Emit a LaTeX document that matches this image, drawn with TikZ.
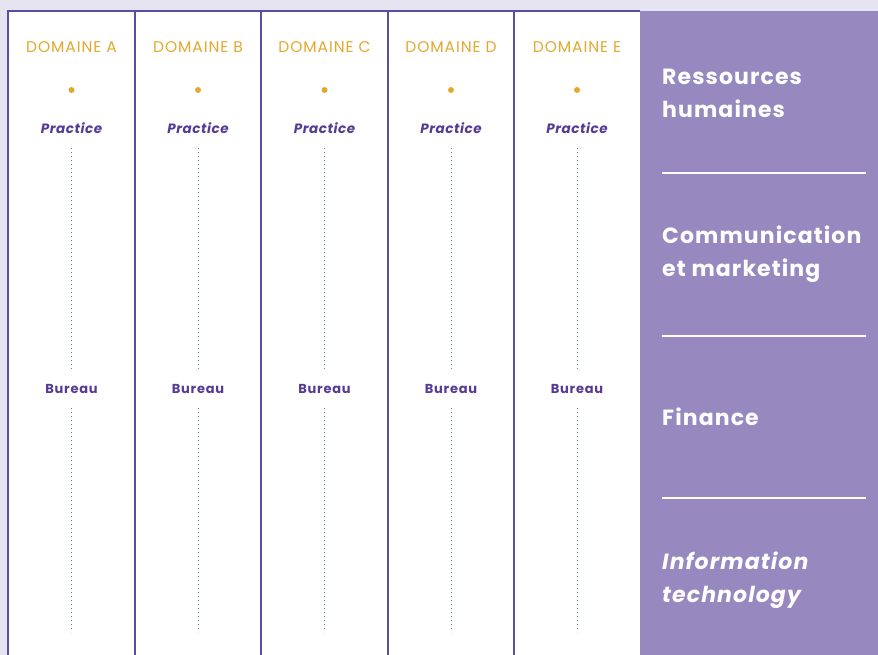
\documentclass[tikz,border=0pt]{standalone}
\usepackage{fontspec}
\setmainfont{Poppins}
\definecolor{bgc}{HTML}{E7E4F1}
\definecolor{panelc}{HTML}{9788BF}
\definecolor{colline}{HTML}{5E4BA6}
\definecolor{goldc}{HTML}{E3A92E}
\definecolor{txtc}{HTML}{563A94}
\definecolor{dotc}{HTML}{5C8C8E}
\tikzset{
  domlabel/.style={text=goldc, font=\fontsize{15.5}{17}\selectfont\addfontfeature{LetterSpace=6}, inner sep=0pt},
  golddot/.style={circle, fill=goldc, minimum size=6pt, inner sep=0pt},
  praclabel/.style={text=txtc, font=\fontsize{13.5}{15}\selectfont\bfseries\itshape\addfontfeature{LetterSpace=4}, inner sep=0pt},
  burlabel/.style={text=txtc, font=\fontsize{13}{14}\selectfont\bfseries\addfontfeature{LetterSpace=6}, inner sep=0pt},
  dotline/.style={dotc, line width=1pt, dash pattern=on 0.8pt off 3.2pt},
  sepline/.style={white, line width=1.2pt},
  paneltext/.style={text=white, anchor=west, align=left, inner sep=0pt, font=\fontsize{22}{33}\selectfont\bfseries\addfontfeature{LetterSpace=5}},
  colrule/.style={colline, line width=1.3pt}
}
\begin{document}
\begin{tikzpicture}[x=1pt,y=-1pt]
\useasboundingbox (0,0) rectangle (878,655);
\fill[bgc] (0,0) rectangle (878,655);
\fill[white] (8,11) rectangle (640,655);
\fill[panelc] (640,11) rectangle (878,655);
\draw[colrule] (8,655) -- (8,11) -- (640,11);
\foreach \x in {135,261,388,514} \draw[colrule] (\x,11) -- (\x,655);
\foreach \c/\L in {71.5/A,198/B,324.5/C,451/D,577/E} {
  \node[domlabel] (d\L) at (\c,47) {DOMAINE \L};
  \node[golddot] (g\L) at (\c,90) {};
  \node[praclabel] (p\L) at (\c,128) {Practice};
  \node[burlabel] (b\L) at (\c,389) {Bureau};
  \coordinate (e\L) at (\c,632);
  \draw[dotline, shorten <=20pt, shorten >=19pt] (p\L.center) -- (b\L.center);
  \draw[dotline, shorten <=19pt] (b\L.center) -- (e\L);
}
\node[paneltext] (rh) at (662,93.5) {Ressources\\humaines};
\node[paneltext] (cm) at (662,254.5) {Communication\\et marketing};
\node[paneltext] (fi) at (662,417) {Finance};
\node[paneltext, font=\fontsize{22}{33}\selectfont\bfseries\itshape\addfontfeature{LetterSpace=5}] (it) at (662,580) {Information\\technology};
\coordinate (s1a) at (662,173); \coordinate (s1b) at (866,173);
\coordinate (s2a) at (662,336); \coordinate (s2b) at (866,336);
\coordinate (s3a) at (662,498); \coordinate (s3b) at (866,498);
\draw[sepline] (s1a) -- (s1b);
\draw[sepline] (s2a) -- (s2b);
\draw[sepline] (s3a) -- (s3b);
\end{tikzpicture}
\end{document}
